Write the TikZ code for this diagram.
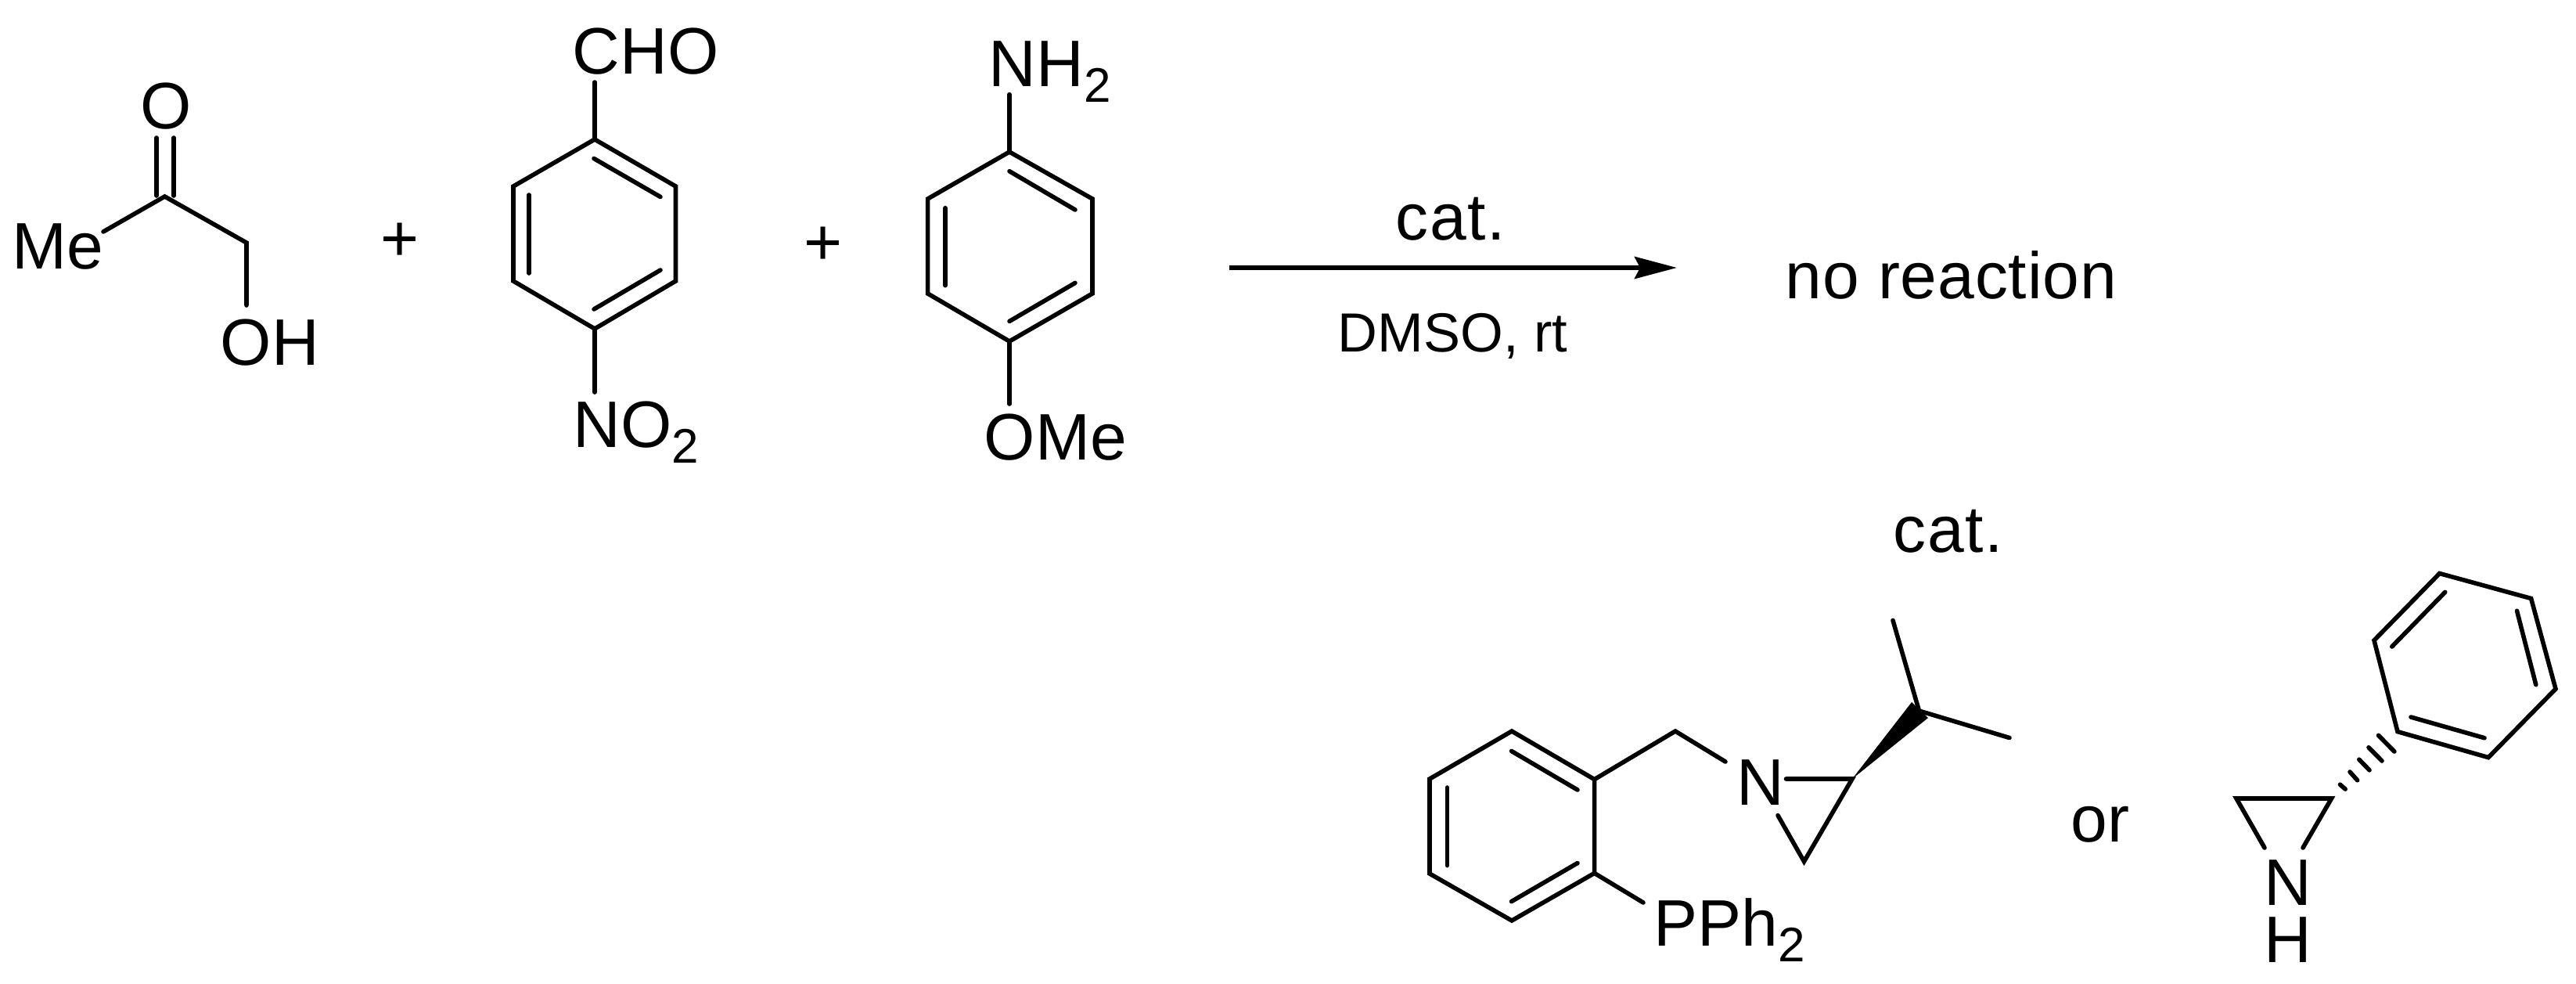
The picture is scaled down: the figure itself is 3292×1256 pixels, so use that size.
\documentclass[tikz,border=0pt]{standalone}
\usepackage{fontspec}
\setmainfont{Liberation Sans}
\usetikzlibrary{arrows.meta}
\newcommand{\subtwo}{\raisebox{-5.2pt}{\fontsize{15.5}{15.5}\selectfont 2}}
\tikzset{
  bond/.style={line width=1.4pt,line cap=round,line join=miter},
  atomlabel/.style={anchor=base west,inner sep=0pt,font=\fontsize{21}{21}\selectfont},
  catlabel/.style={atomlabel,font=\fontsize{21}{21}\selectfont\addfontfeature{LetterSpace=2}},
  resultlabel/.style={atomlabel,font=\fontsize{21}{21}\selectfont\addfontfeature{LetterSpace=1}},
  condlabel/.style={anchor=base west,inner sep=0pt,font=\fontsize{17.6}{17.6}\selectfont},
}
\begin{document}
\begin{tikzpicture}[x=0.25pt,y=0.25pt,yscale=-1,xscale=1]
\useasboundingbox (0,0) rectangle (3292,1256);
% Text Node
\draw (212,164) node (oxoA) [atomlabel,anchor=base] {O};
\draw (15,343) node (meA) [atomlabel] {Me};
\draw (281,466) node (ohA) [atomlabel] {OH};
\draw (511,309) node (plusA) [atomlabel,anchor=center] {+};
\draw (1052,314) node (plusB) [atomlabel,anchor=center] {+};
\draw (731,94) node (choA) [atomlabel] {CHO};
\draw (732,571) node (nitroA) [atomlabel] {NO\subtwo};
\draw (1263,110) node (aminoA) [atomlabel] {NH\subtwo};
\draw (1257,587) node (omeA) [atomlabel] {OMe};
\draw (1783,306) node (catA) [catlabel] {cat.};
\draw (1709,449) node (condA) [condlabel] {DMSO, rt};
\draw (2281,381) node (noreactA) [resultlabel] {no reaction};
\draw (2419,705) node (catB) [catlabel] {cat.};
\draw (2219,1028) node (azirA) [atomlabel] {N};
\draw (2113,1208) node (phosA) [atomlabel] {PPh\subtwo};
\draw (2646,1075) node (orA) [atomlabel] {or};
\draw (2893,1156) node (azirB) [atomlabel] {N};
\draw (2893,1229) node (hydB) [atomlabel] {H};
% Keto alcohol
\coordinate (ketoC) at (210.5,251);
\coordinate (ketoOa) at (200,176);
\coordinate (ketoOb) at (222,176);
\coordinate (ketoCa) at (200,250);
\coordinate (ketoCb) at (222,250);
\coordinate (meEnd) at (132,296);
\coordinate (chTwo) at (315,310);
\coordinate (ohEnd) at (315,390);
\draw [bond] (ketoCa) -- (ketoOa);
\draw [bond] (ketoCb) -- (ketoOb);
\draw [bond] (meEnd) -- (ketoC) -- (chTwo) -- (ohEnd);
% Aldehyde ring
\coordinate (alA) at (760,178);
\coordinate (alB) at (863.5,238);
\coordinate (alC) at (863.5,359);
\coordinate (alD) at (760,420);
\coordinate (alE) at (656,359);
\coordinate (alF) at (656,238);
\coordinate (choEnd) at (760,105);
\coordinate (nitroEnd) at (760,501);
\draw [bond] (alA) -- (alB) -- (alC) -- (alD) -- (alE) -- (alF) -- cycle;
\draw [bond] (alA) -- (choEnd);
\draw [bond] (alD) -- (nitroEnd);
\draw [bond] (759,202.5) -- (844,251.5);
\draw [bond] (676,249) -- (676,349);
\draw [bond] (844,345) -- (759,395);
% Aniline ring
\coordinate (anA) at (1290,194);
\coordinate (anB) at (1396,254);
\coordinate (anC) at (1396,375);
\coordinate (anD) at (1290,436);
\coordinate (anE) at (1185.6,375);
\coordinate (anF) at (1185.6,254);
\coordinate (aminoEnd) at (1290,120.6);
\coordinate (omeEnd) at (1290,516);
\draw [bond] (anA) -- (anB) -- (anC) -- (anD) -- (anE) -- (anF) -- cycle;
\draw [bond] (anA) -- (aminoEnd);
\draw [bond] (anD) -- (omeEnd);
\draw [bond] (1290,218.7) -- (1374,268);
\draw [bond] (1208,265.7) -- (1208,364.6);
\draw [bond] (1374,361.4) -- (1290,410.4);
% Reaction arrow
\coordinate (arrowStart) at (1571,342);
\coordinate (arrowEnd) at (2143,342);
\draw [line width=1.5pt,-{Stealth[length=13.5pt,width=7pt,inset=1.75pt]}] (arrowStart) -- (arrowEnd);
% Phosphine ring
\coordinate (phA) at (1932,934);
\coordinate (phB) at (2037.6,995.6);
\coordinate (phC) at (2037.6,1115.4);
\coordinate (phD) at (1932,1176);
\coordinate (phE) at (1827,1116);
\coordinate (phF) at (1827,995);
\coordinate (benzyl) at (2141,934);
\coordinate (benzylEnd) at (2205,973);
\coordinate (phosEnd) at (2100,1153);
\draw [bond] (phA) -- (phB) -- (phC) -- (phD) -- (phE) -- (phF) -- cycle;
\draw [bond] (phB) -- (benzyl) -- (benzylEnd);
\draw [bond] (phC) -- (phosEnd);
\draw [bond] (1931.5,959.4) -- (2016,1009);
\draw [bond] (1849.4,1006) -- (1849.4,1105.6);
\draw [bond] (2016,1102.5) -- (1931.5,1151.6);
% Isopropyl aziridine
\coordinate (azNa) at (2282.5,995);
\coordinate (azNb) at (2272,1041.6);
\coordinate (azCa) at (2367,995);
\coordinate (azCb) at (2305.5,1100.5);
\coordinate (ipr) at (2452.5,908);
\coordinate (iprUp) at (2419,792.5);
\coordinate (iprRight) at (2568,942.5);
\draw [bond] (azNa) -- (azCa) -- (azCb) -- (azNb);
\draw [bond] (iprUp) -- (ipr) -- (iprRight);
\fill (azCa) -- (2443,897) -- (2464,917) -- cycle;
% Phenyl aziridine
\coordinate (azLeft) at (2858,1020);
\coordinate (azRight) at (2979.5,1020);
\coordinate (azEndL) at (2894,1083);
\coordinate (azEndR) at (2943,1083);
\coordinate (arA) at (3064,934.6);
\coordinate (arB) at (3180,967.6);
\coordinate (arC) at (3266,880);
\coordinate (arD) at (3234.6,764.5);
\coordinate (arE) at (3117.6,732.5);
\coordinate (arF) at (3034,818);
\draw [bond] (azEndL) -- (azLeft) -- (azRight) -- (azEndR);
\draw [bond] (arA) -- (arB) -- (arC) -- (arD) -- (arE) -- (arF) -- cycle;
\draw [bond] (3081,916) -- (3175,942.7);
\draw [bond] (3240.8,874.7) -- (3216.5,780.3);
\draw [bond] (3124.7,756.4) -- (3056.8,826);
% Hashed bond
\draw [bond] (2990.5,1002.2) -- (2997.2,1008);
\draw [bond] (3003,986) -- (3012.6,996.7);
\draw [bond] (3014.8,970.2) -- (3028,983.8);
\draw [bond] (3027,954.8) -- (3044,972);
\draw [bond] (3039.5,939.4) -- (3059.9,960);
\end{tikzpicture}
\end{document}
